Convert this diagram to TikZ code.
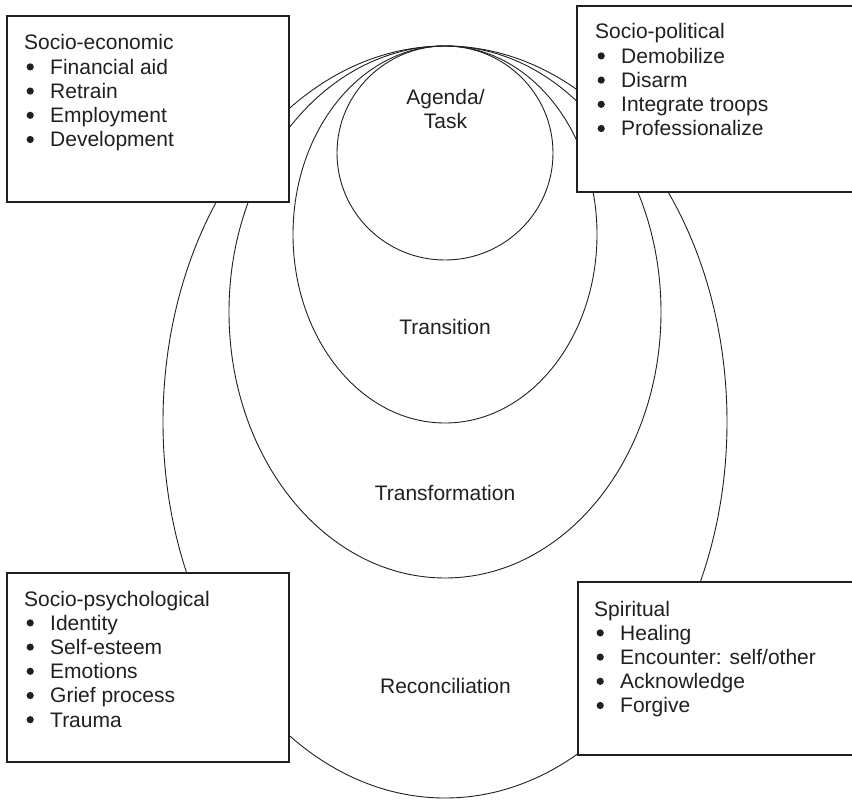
\documentclass[tikz,border=0pt]{standalone}
\usepackage{fontspec}
\setmainfont{Liberation Sans}
\definecolor{ink}{HTML}{231F20}
\newcommand{\dgdot}{\tikz[baseline=0pt]{\useasboundingbox (0pt,0pt) rectangle (26pt,1pt);\fill[ink] (6pt,7.3pt) circle [radius=3.6pt];}}
\newcommand{\dgitem}[1]{\dgdot#1}
\begin{document}
\begin{tikzpicture}[x=1pt,y=-1pt,
  ring/.style={draw=ink, line width=0.9pt},
  panel/.style={draw=ink, line width=1.6pt, fill=white},
  txt/.style={text=ink, inner sep=0pt, font=\fontsize{21}{24.2}\selectfont}]
\useasboundingbox (0,0) rectangle (852,800);
% nested ellipses, all touching at the top
\draw[ring] (445,422) ellipse [x radius=282pt, y radius=376pt];
\draw[ring] (445,312) ellipse [x radius=216pt, y radius=266pt];
\draw[ring] (445,234.5) ellipse [x radius=152pt, y radius=188.5pt];
\draw[ring] (445,153) ellipse [x radius=108pt, y radius=107pt];
% boxes
\draw[panel] (7,16) rectangle (289,202);
\draw[panel] (577,6) rectangle (853,192);
\draw[panel] (7,573) rectangle (289,762);
\draw[panel] (578,582) rectangle (853,755);
% box texts
\node[txt, anchor=base west] (econ) at (24,50) {\begin{tabular}[t]{@{}l@{}}Socio-economic\\
\dgitem{Financial aid}\\ \dgitem{Retrain}\\ \dgitem{Employment}\\ \dgitem{Development}\end{tabular}};
\node[txt, anchor=base west] (polit) at (595,39) {\begin{tabular}[t]{@{}l@{}}Socio-political\\
\dgitem{Demobilize}\\ \dgitem{Disarm}\\ \dgitem{Integrate troops}\\ \dgitem{Professionalize}\end{tabular}};
\node[txt, anchor=base west] (psych) at (24,606) {\begin{tabular}[t]{@{}l@{}}Socio-psychological\\
\dgitem{Identity}\\ \dgitem{Self-esteem}\\ \dgitem{Emotions}\\ \dgitem{Grief process}\\ \dgitem{Trauma}\end{tabular}};
\node[txt, anchor=base west] (spirit) at (594,616) {\begin{tabular}[t]{@{}l@{}}Spiritual\\
\dgitem{Healing}\\ \dgitem{Encounter: self/other}\\ \dgitem{Acknowledge}\\ \dgitem{Forgive}\end{tabular}};
% ring labels
\node[txt, anchor=base] (agenda) at (445.5,104) {\begin{tabular}[t]{@{}c@{}}Agenda/\\Task\end{tabular}};
\node[txt, anchor=base] (transition) at (445,334) {Transition};
\node[txt, anchor=base] (transformation) at (445,500) {Transformation};
\node[txt, anchor=base] (reconciliation) at (445.5,693) {Reconciliation};
\end{tikzpicture}
\end{document}
